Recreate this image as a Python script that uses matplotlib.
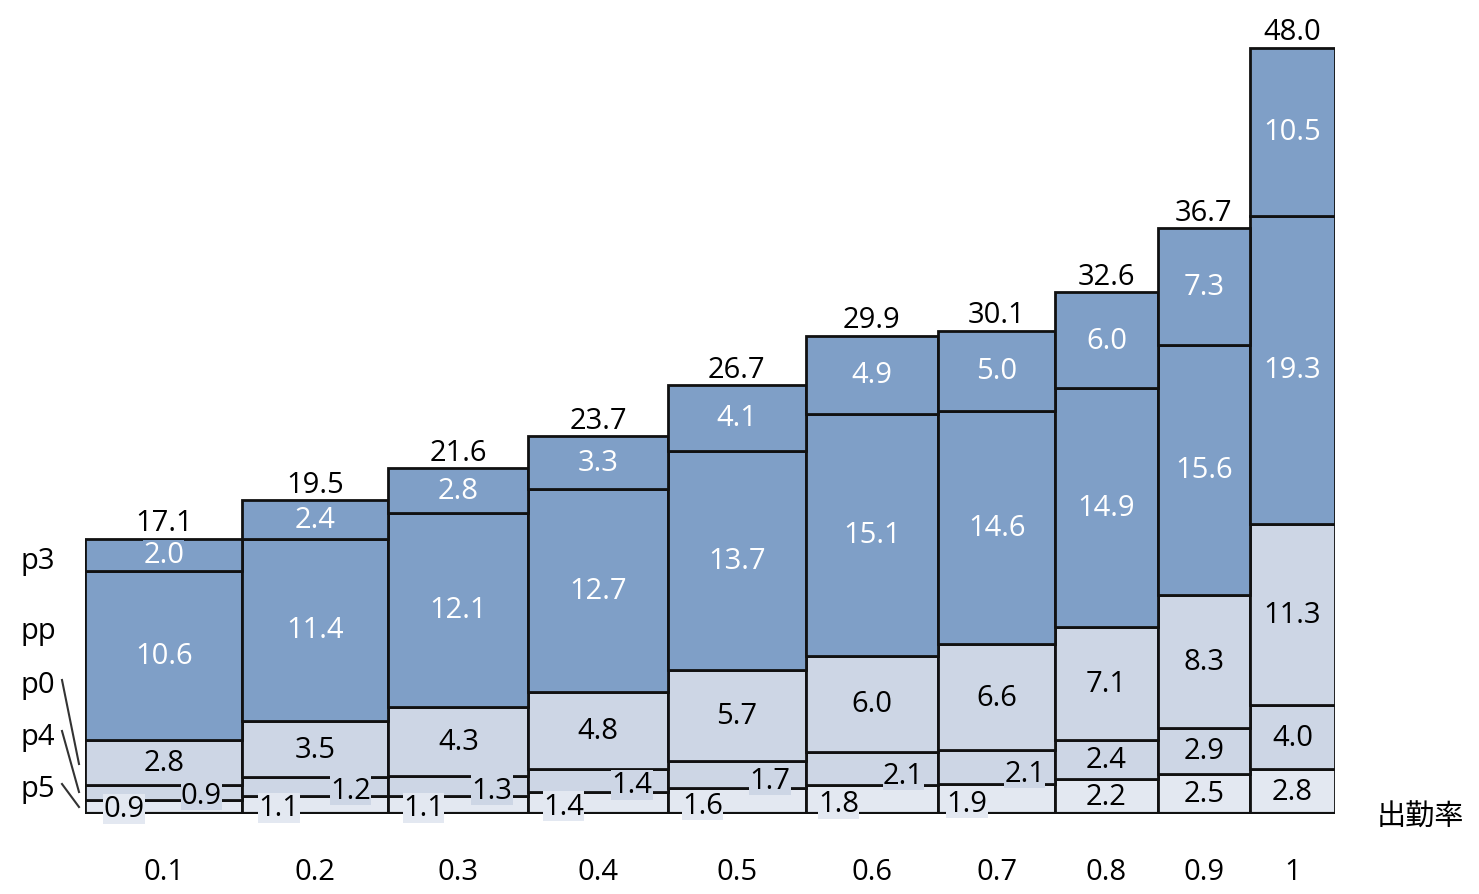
import matplotlib.pyplot as plt
from matplotlib.lines import Line2D

# attendance rate categories and relative bar widths
categories = ['0.1', '0.2', '0.3', '0.4', '0.5', '0.6', '0.7', '0.8', '0.9', '1']
widths = [12.6, 11.7, 11.2, 11.2, 11.0, 10.6, 9.4, 8.2, 7.4, 6.8]

# stacked segments, bottom to top
p5 = [0.9, 1.1, 1.1, 1.4, 1.6, 1.8, 1.9, 2.2, 2.5, 2.8]
p4 = [0.9, 1.2, 1.3, 1.4, 1.7, 2.1, 2.1, 2.4, 2.9, 4.0]
p0 = [2.8, 3.5, 4.3, 4.8, 5.7, 6.0, 6.6, 7.1, 8.3, 11.3]
pp = [10.6, 11.4, 12.1, 12.7, 13.7, 15.1, 14.6, 14.9, 15.6, 19.3]
p3 = [2.0, 2.4, 2.8, 3.3, 4.1, 4.9, 5.0, 6.0, 7.3, 10.5]
totals = [17.1, 19.5, 21.6, 23.7, 26.7, 29.9, 30.1, 32.6, 36.7, 48.0]

series = [p5, p4, p0, pp, p3]
names = ['p5', 'p4', 'p0', 'pp', 'p3']
colors = ['#E3E8F1', '#CDD6E5', '#CDD6E5', '#7F9FC7', '#7F9FC7']
text_colors = ['black', 'black', 'black', 'white', 'white']

plt.rcParams['font.family'] = ['Open Sans', 'DejaVu Sans']
FS = 21

W, H = 1479, 895
fig = plt.figure(figsize=(W / 100, H / 100), dpi=100)
ax = fig.add_axes([85 / W, 80 / H, 1250 / W, 800 / H])

lefts = []
x = 0
for w in widths:
    lefts.append(x)
    x += w

bottom = [0] * len(categories)
for s, vals in enumerate(series):
    ax.bar(lefts, vals, width=widths, bottom=bottom, align='edge',
           color=colors[s], edgecolor='#111111', linewidth=2.0, zorder=2)
    for i, v in enumerate(vals):
        w = widths[i]
        cx = lefts[i] + w / 2
        cy = bottom[i] + v / 2
        if i <= 6 and s == 0:
            cx = lefts[i] + 0.25 * w
            cy = bottom[i] + v * 0.35
        elif i <= 6 and s == 1:
            cx = lefts[i] + 0.74 * w
            cy = bottom[i] + v * 0.3
        ax.text(cx, cy, f'{v:.1f}', ha='center', va='center', fontsize=FS,
                color=text_colors[s], zorder=4,
                bbox=dict(facecolor=colors[s], edgecolor='none', pad=0.3))
    bottom = [b + v for b, v in zip(bottom, vals)]

for i, t in enumerate(totals):
    ax.annotate(f'{t:.1f}', (lefts[i] + widths[i] / 2, bottom[i]),
                xytext=(0, 1), textcoords='offset points',
                ha='center', va='bottom', fontsize=FS, color='black')

ax.axhline(0, color='#111111', linewidth=3, zorder=3)
ax.set_xlim(0, sum(widths))
ax.set_ylim(0, 50)
ax.axis('off')

# category labels below bars
for i, c in enumerate(categories):
    ax.text(lefts[i] + widths[i] / 2, -3.6, c, ha='center', va='center',
            fontsize=FS, clip_on=False)

fig.text(1420 / W, 1 - 818 / H, '出勤率', ha='center', va='center',
         fontsize=21, family=['Noto Sans CJK JP', 'DejaVu Sans'])

# series labels on the left with leader lines
label_y = {'p3': 562, 'pp': 632, 'p0': 685, 'p4': 738, 'p5': 790}
for n in names:
    fig.text(38 / W, 1 - label_y[n] / H, n, ha='center', va='center', fontsize=FS)
leaders = [((62, 681), (79, 765)), ((62, 732), (79, 793)), ((62, 785), (79, 808))]
for (x0, y0), (x1, y1) in leaders:
    fig.add_artist(Line2D([x0 / W, x1 / W], [1 - y0 / H, 1 - y1 / H],
                          color='#333333', linewidth=1.5))

fig.savefig('out.png', dpi=100)
